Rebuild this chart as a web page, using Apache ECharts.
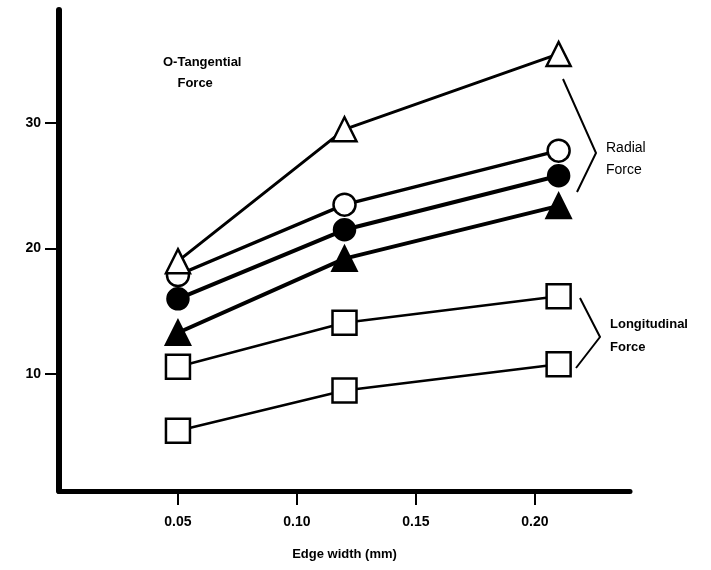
<!DOCTYPE html>
<html>
<head>
<meta charset="utf-8">
<script src="https://cdn.jsdelivr.net/npm/echarts@6/dist/echarts.min.js"></script>
<style>
  html, body { margin: 0; padding: 0; background: #fff; }
  #chart { width: 711px; height: 570px; }
</style>
</head>
<body>
<div id="chart"></div>
<script>
// Edge widths (mm) at which forces were measured
const edgeWidths = [0.05, 0.12, 0.21];

// Force values
const tangential = [19.0, 29.5, 35.5];
const radialOpen = [17.9, 23.5, 27.8];
const radialFilled = [16.0, 21.5, 25.8];
const radialTriangle = [13.3, 19.2, 23.4];
const longitudinalUpper = [10.6, 14.1, 16.2];
const longitudinalLower = [5.5, 8.7, 10.8];

// Tick labels
const yTicks = [10, 20, 30];
const xTicks = [0.05, 0.10, 0.15, 0.20];

function pairs(values) {
  return edgeWidths.map((x, i) => [x, values[i]]);
}

function makeSeries(name, values, symbol, filled, lineWidth, size) {
  return {
    name: name,
    type: "line",
    data: pairs(values),
    symbol: symbol,
    symbolSize: size,
    showAllSymbol: true,
    lineStyle: { color: "#000", width: lineWidth },
    itemStyle: {
      color: filled ? "#000" : "#fff",
      borderColor: "#000",
      borderWidth: 2.5,
    },
    emphasis: { disabled: true },
    z: 3,
  };
}

const chart = echarts.init(document.getElementById("chart"));

const labelFont = {
  fontFamily: "Liberation Sans",
  fontSize: 14,
  fontWeight: "bold",
  color: "#000",
};

const option = {
  animation: false,
  backgroundColor: "#fff",
  grid: { left: 59, right: 81, top: 10, bottom: 79 },
  xAxis: {
    type: "value",
    min: 0,
    max: 0.24,
    name: "Edge width (mm)",
    nameLocation: "middle",
    nameGap: 57,
    nameTextStyle: Object.assign({}, labelFont, { fontSize: 13 }),
    axisLine: { lineStyle: { color: "#000", width: 5 } },
    axisTick: {
      customValues: xTicks,
      length: 14,
      lineStyle: { color: "#000", width: 2 },
    },
    axisLabel: Object.assign({}, labelFont, {
      customValues: xTicks,
      margin: 24,
      formatter: (v) => v.toFixed(2),
    }),
    splitLine: { show: false },
  },
  yAxis: {
    type: "value",
    min: 0.7,
    max: 39,
    axisLine: { show: true, lineStyle: { color: "#000", width: 6 } },
    axisTick: {
      show: true,
      customValues: yTicks,
      length: 14,
      lineStyle: { color: "#000", width: 2 },
    },
    axisLabel: Object.assign({}, labelFont, {
      customValues: yTicks,
      margin: 18,
    }),
    splitLine: { show: false },
  },
  series: [
    makeSeries("Longitudinal lower", longitudinalLower, "rect", false, 2.5, 24),
    makeSeries("Longitudinal upper", longitudinalUpper, "rect", false, 2.5, 24),
    makeSeries("Radial triangle", radialTriangle, "triangle", true, 4, 24),
    makeSeries("Radial filled", radialFilled, "circle", true, 4, 21),
    makeSeries("Radial open", radialOpen, "circle", false, 3.5, 22),
    makeSeries("Tangential", tangential, "triangle", false, 3, 24),
  ],
  graphic: [
    {
      type: "text",
      left: 163,
      top: 52,
      style: {
        text: "O-Tangential\n    Force",
        font: "bold 13px 'Liberation Sans'",
        fill: "#000",
        lineHeight: 21,
      },
    },
    {
      type: "polyline",
      shape: { points: [[563, 79], [596, 153], [577, 192]] },
      style: { stroke: "#000", lineWidth: 2, fill: null },
    },
    {
      type: "text",
      left: 606,
      top: 137,
      style: {
        text: "Radial\nForce",
        font: "14px 'Liberation Sans'",
        fill: "#000",
        lineHeight: 22,
      },
    },
    {
      type: "polyline",
      shape: { points: [[580, 298], [600, 337], [576, 368]] },
      style: { stroke: "#000", lineWidth: 2, fill: null },
    },
    {
      type: "text",
      left: 610,
      top: 313,
      style: {
        text: "Longitudinal\nForce",
        font: "bold 13px 'Liberation Sans'",
        fill: "#000",
        lineHeight: 23,
      },
    },
  ],
};

chart.setOption(option);
</script>
</body>
</html>
